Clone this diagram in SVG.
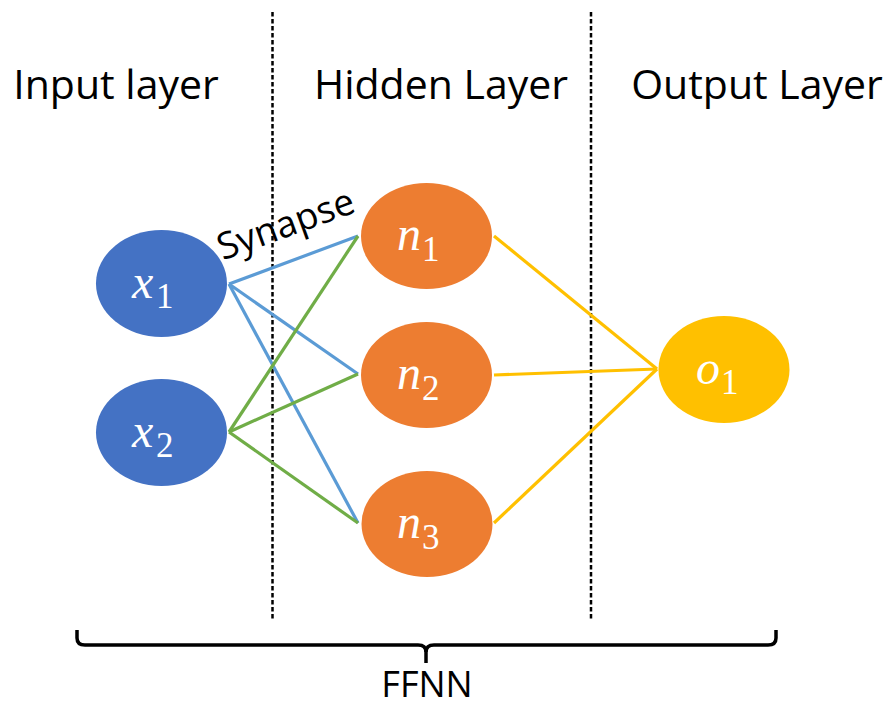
<svg xmlns="http://www.w3.org/2000/svg" width="891" height="709" viewBox="0 0 891 709">
<style>
.title{font-family:"Open Sans","Liberation Sans",sans-serif;font-size:41px;fill:#000;text-anchor:middle}
.lbl{font-family:"Liberation Serif",serif;font-style:italic;font-size:48px;fill:#fff}
.sub{font-family:"Liberation Serif",serif;font-style:normal;font-size:35px;fill:#fff}
.sep{stroke:#000;stroke-width:2.5;stroke-dasharray:4.5 2.5;fill:none}
.blue{stroke:#5B9BD5;stroke-width:3.2;fill:none}
.green{stroke:#70AD47;stroke-width:3.2;fill:none}
.gold{stroke:#FFC000;stroke-width:3.2;fill:none}
.in{fill:#4472C4}
.hid{fill:#ED7D31}
.out{fill:#FFC000}
</style>
<rect width="891" height="709" fill="#fff"/>
<g id="titles">
<text class="title" x="116" y="99">Input layer</text>
<text class="title" x="441" y="99">Hidden Layer</text>
<text class="title" x="757" y="99">Output Layer</text>
</g>
<g id="separators">
<line class="sep" x1="272.5" y1="12" x2="272.5" y2="620"/>
<line class="sep" x1="591" y1="12" x2="591" y2="620"/>
</g>
<g id="connectors">
<line class="blue" x1="229" y1="284" x2="358" y2="236"/>
<line class="blue" x1="229" y1="284" x2="358" y2="374"/>
<line class="blue" x1="229" y1="284" x2="358" y2="523"/>
<line class="green" x1="229" y1="432" x2="358" y2="236"/>
<line class="green" x1="229" y1="432" x2="358" y2="374"/>
<line class="green" x1="229" y1="432" x2="358" y2="523"/>
<line class="gold" x1="494" y1="236" x2="657" y2="369"/>
<line class="gold" x1="494" y1="375" x2="657" y2="369"/>
<line class="gold" x1="494" y1="523" x2="657" y2="369"/>
</g>
<text id="synapse" x="290" y="236" transform="rotate(-20 290 236)" font-family="Open Sans, Liberation Sans, sans-serif" font-size="37" text-anchor="middle" fill="#000">Synapse</text>
<g id="x1">
<ellipse class="in" cx="161.5" cy="283.5" rx="65.5" ry="53.5"/>
<text class="lbl" x="132" y="298">x</text><text class="sub" x="156" y="308">1</text>
</g>
<g id="x2">
<ellipse class="in" cx="161.5" cy="432.5" rx="65.5" ry="53.5"/>
<text class="lbl" x="132" y="447">x</text><text class="sub" x="156" y="457">2</text>
</g>
<g id="n1">
<ellipse class="hid" cx="426.5" cy="236" rx="65.5" ry="53"/>
<text class="lbl" x="397" y="250">n</text><text class="sub" x="422" y="261">1</text>
</g>
<g id="n2">
<ellipse class="hid" cx="426.5" cy="375" rx="65.5" ry="53"/>
<text class="lbl" x="397" y="389">n</text><text class="sub" x="422" y="400">2</text>
</g>
<g id="n3">
<ellipse class="hid" cx="427" cy="524" rx="65.5" ry="53"/>
<text class="lbl" x="397" y="538">n</text><text class="sub" x="422" y="549">3</text>
</g>
<g id="o1">
<ellipse class="out" cx="724" cy="369.5" rx="65.5" ry="53.5"/>
<text class="lbl" x="696" y="384">o</text><text class="sub" x="721" y="394">1</text>
</g>
<g id="brace">
<path d="M77,630 V638 Q77,645 85,645 H418 Q426,645 426,652 Q426,645 434,645 H768 Q776,645 776,638 V630" fill="none" stroke="#000" stroke-width="3.5"/>
<line x1="426" y1="647" x2="426" y2="663" stroke="#000" stroke-width="3.5"/>
</g>
<text id="ffnn" x="427" y="697" font-family="Open Sans, Liberation Sans, sans-serif" font-size="36" text-anchor="middle" fill="#000">FFNN</text>
</svg>
